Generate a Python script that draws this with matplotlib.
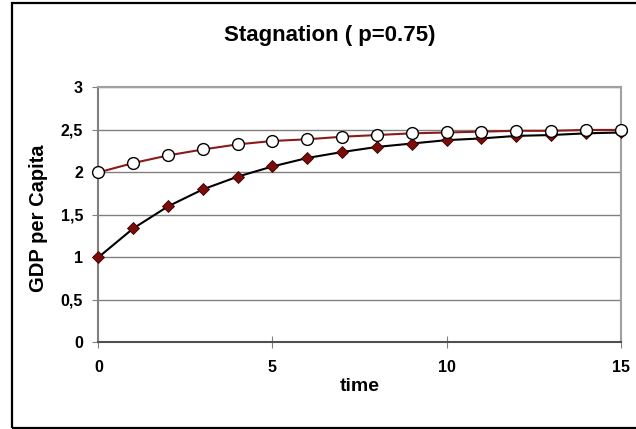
import numpy as np
import matplotlib.pyplot as plt
from matplotlib.patches import Rectangle
from matplotlib.ticker import FuncFormatter

plt.rcParams['font.family'] = ['Liberation Sans', 'DejaVu Sans']

# data
time = list(range(16))
gdp_low = [1.00, 1.34, 1.60, 1.80, 1.95, 2.07, 2.17, 2.24, 2.30, 2.34,
           2.38, 2.40, 2.43, 2.44, 2.46, 2.47]
gdp_high = [2.00, 2.11, 2.20, 2.27, 2.33, 2.37, 2.39, 2.42, 2.44, 2.46,
            2.47, 2.48, 2.49, 2.49, 2.50, 2.50]
yticks = [0, 0.5, 1, 1.5, 2, 2.5, 3]
xticks = [0, 5, 10, 15]

fig = plt.figure(figsize=(6.36, 4.29), dpi=100)
ax = fig.add_axes([0.1546, 0.2021, 0.8214, 0.594])

# outer chart frame
fig.patches.append(Rectangle((12/636, 1.5/429), 1.0, (426 - 1.5)/429,
                             transform=fig.transFigure, fill=False,
                             edgecolor='black', linewidth=1.6))

for y in yticks[1:]:
    ax.axhline(y, color='#808080', linewidth=1.0, zorder=1)

ax.plot(time, gdp_low, color='black', linewidth=1.5, marker='D',
        markersize=6, markerfacecolor='#7a0c0c', markeredgecolor='#3a0000',
        markeredgewidth=0.6, zorder=3, clip_on=False)
ax.plot(time, gdp_high, color='#8b1a1a', linewidth=1.5, marker='o',
        markersize=8.5, markerfacecolor='white', markeredgecolor='black',
        markeredgewidth=1.0, zorder=4, clip_on=False)

ax.set_xlim(0, 15)
ax.set_ylim(0, 3)
ax.set_xticks(xticks)
ax.set_yticks(yticks)
ax.yaxis.set_major_formatter(FuncFormatter(lambda v, p: ('%g' % v).replace('.', ',')))
ax.tick_params(axis='both', direction='out', length=4, color='#808080',
               labelsize=11.5, pad=7)
ax.tick_params(axis='x', direction='inout', length=8, pad=9)
for lab in ax.get_xticklabels() + ax.get_yticklabels():
    lab.set_fontweight('bold')

for side in ['left', 'bottom']:
    ax.spines[side].set_color('#808080')
    ax.spines[side].set_linewidth(1.5)
for side in ['top', 'right']:
    ax.spines[side].set_color('#a0a0a0')
    ax.spines[side].set_linewidth(1.5)
ax.spines['bottom'].set_color('#505050')

fig.text(0.518, 0.904, 'Stagnation ( p=0.75)', ha='center', va='baseline',
         fontsize=16, fontweight='bold')
fig.text(0.061, 0.492, 'GDP per Capita', ha='center', va='center',
         rotation=90, fontsize=14.5, fontweight='bold')
fig.text(0.565, 0.10, 'time', ha='center', va='center',
         fontsize=14, fontweight='bold')

fig.savefig('out.png', dpi=100)
